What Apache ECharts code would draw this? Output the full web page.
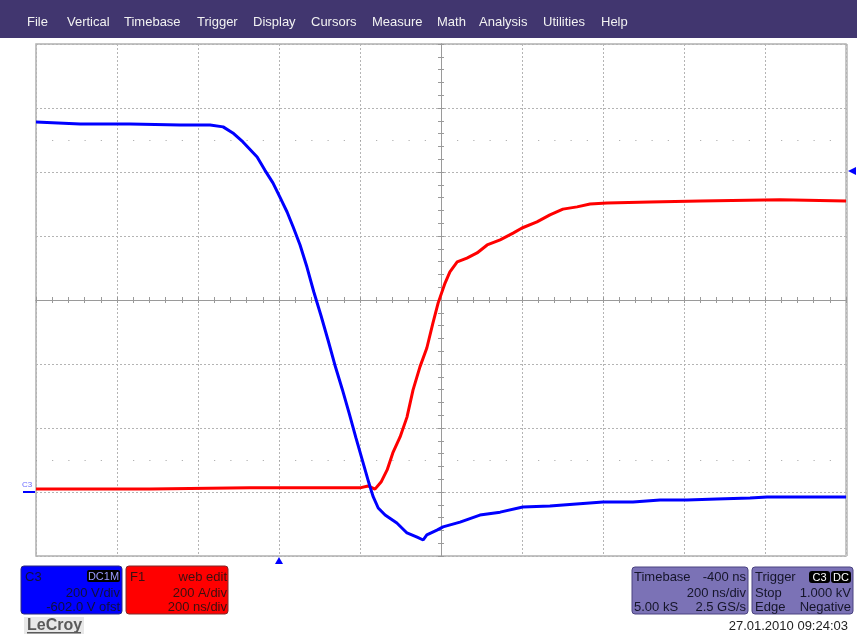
<!DOCTYPE html>
<html>
<head>
<meta charset="utf-8">
<script src="https://cdn.jsdelivr.net/npm/echarts@6/dist/echarts.min.js"></script>
<style>
  html, body { margin: 0; padding: 0; background: #fff; }
  #main { width: 857px; height: 634px; }
</style>
</head>
<body>
<div id="main"></div>
<script>
// time in ns (trigger = 0), C3 in V, F1 in A (zero at C3 ground marker)
var c3Time = [-600, -491, -368, -244, -170, -138, -114, -89, -54, -35, -15, 2, 20, 35, 52, 69, 86, 104, 121, 138, 156, 173, 190, 207, 222, 232, 245, 262, 291, 316, 341, 356, 365, 390, 405, 447, 496, 546, 602, 669, 726, 800, 874, 941, 1007, 1081, 1163, 1205, 1286, 1400];
var c3Volt = [1156, 1150, 1150, 1147, 1147, 1141, 1122, 1094, 1047, 1006, 966, 922, 875, 828, 772, 703, 625, 550, 475, 397, 322, 247, 169, 94, 28, -13, -50, -72, -97, -128, -141, -150, -134, -119, -109, -94, -72, -63, -47, -44, -38, -31, -31, -25, -25, -22, -19, -16, -16, -16];

var f1Time = [-600, -319, -72, 200, 220, 237, 252, 267, 281, 299, 316, 331, 348, 365, 380, 393, 410, 422, 440, 464, 489, 514, 546, 578, 600, 637, 669, 701, 736, 768, 810, 916, 1040, 1237, 1400];
var f1Amp = [9, 9, 13, 13, 19, 9, 31, 69, 122, 172, 234, 319, 391, 450, 528, 591, 653, 688, 719, 731, 747, 772, 788, 809, 825, 844, 866, 884, 891, 900, 903, 906, 909, 913, 909];

// helper rows of dots at +/-2.5 div (in C3 units)
var dotRows = [1100, 100];

var menuItems = ['File', 'Vertical', 'Timebase', 'Trigger', 'Display', 'Cursors', 'Measure', 'Math', 'Analysis', 'Utilities', 'Help'];
var menuX = [27, 67, 124, 197, 253, 311, 372, 437, 479, 543, 601];

var FONT = '"Liberation Sans", Arial, sans-serif';

function pairs(xs, ys) {
  var out = [];
  for (var i = 0; i < xs.length; i++) out.push([xs[i], ys[i]]);
  return out;
}

function txt(x, y, s, color, size, align) {
  return {
    type: 'text', x: x, y: y, silent: true,
    style: { text: s, fill: color, font: (size || 13) + 'px ' + FONT, align: align || 'left', verticalAlign: 'middle' }
  };
}
function box(x, y, w, h, fill, stroke, r) {
  return {
    type: 'rect', silent: true,
    shape: { x: x, y: y, width: w, height: h, r: r || 0 },
    style: { fill: fill, stroke: stroke || null, lineWidth: stroke ? 1 : 0 }
  };
}

var chart = echarts.init(document.getElementById('main'));

var gridRect = { left: 36, top: 44, width: 810, height: 512 };
var dots = { color: '#b4b4b4', width: 1, type: [2, 2] };

function centerAxes(idx, inside) {
  return {
    x: {
      type: 'value', gridIndex: idx, min: -5, max: 5, interval: 0.2,
      axisLine: { show: true, onZero: true, lineStyle: { color: '#9a9a9a', width: 1 } },
      axisTick: { show: true, inside: inside, length: 3, lineStyle: { color: '#9a9a9a' } },
      axisLabel: { show: false }, splitLine: { show: false }
    },
    y: {
      type: 'value', gridIndex: idx, min: -4, max: 4, interval: 0.2,
      axisLine: { show: true, onZero: true, lineStyle: { color: '#9a9a9a', width: 1 } },
      axisTick: { show: true, inside: inside, length: 3, lineStyle: { color: '#9a9a9a' } },
      axisLabel: { show: false }, splitLine: { show: false }
    }
  };
}
var ca1 = centerAxes(1, true);
var ca2 = centerAxes(2, false);

var graphics = [];
// menu bar
graphics.push(box(0, 0, 857, 38, '#41366f'));
menuItems.forEach(function (m, i) {
  graphics.push(txt(menuX[i], 22, m, '#f2f2f2', 13));
});

// right plot edge (thicker, lighter)
graphics.push(box(845, 44, 3, 512, '#c8c8c8'));

// C3 channel box
graphics.push(box(21, 566, 101, 48, '#0000ff', '#2a2a80', 3));
graphics.push(txt(25, 577, 'C3', '#10103a', 13));
graphics.push(box(87, 570, 33, 12, '#000000', null, 2));
graphics.push(txt(103.5, 576.5, 'DC1M', '#9a9aff', 11, 'center'));
graphics.push(txt(120, 593, '200 V/div', '#10103a', 13, 'right'));
graphics.push(txt(120, 607, '-602.0 V ofst', '#10103a', 13, 'right'));

// F1 box
graphics.push(box(126, 566, 102, 48, '#ff0000', '#802a2a', 3));
graphics.push(txt(130, 577, 'F1', '#3a1010', 13));
graphics.push(txt(227, 577, 'web edit', '#3a1010', 13, 'right'));
graphics.push(txt(227, 593, '200 A/div', '#3a1010', 13, 'right'));
graphics.push(txt(227, 607, '200 ns/div', '#3a1010', 13, 'right'));

// LeCroy logo
graphics.push(box(24, 617, 60, 17, '#e8e8e8'));
graphics.push({
  type: 'text', x: 27, y: 626, silent: true,
  style: { text: 'LeCroy', fill: '#5a5a5a', font: 'bold 16px ' + FONT, verticalAlign: 'middle' }
});
graphics.push(box(27, 632, 54, 1.5, '#5a5a5a'));

// Timebase box
graphics.push(box(632, 567, 116, 47, '#7b72b6', '#4a4280', 3));
graphics.push(txt(634, 577, 'Timebase', '#15152a', 13));
graphics.push(txt(746, 577, '-400 ns', '#15152a', 13, 'right'));
graphics.push(txt(746, 593, '200 ns/div', '#15152a', 13, 'right'));
graphics.push(txt(634, 607, '5.00 kS', '#15152a', 13));
graphics.push(txt(746, 607, '2.5 GS/s', '#15152a', 13, 'right'));

// Trigger box
graphics.push(box(752, 567, 101, 47, '#7b72b6', '#4a4280', 3));
graphics.push(txt(755, 577, 'Trigger', '#15152a', 13));
graphics.push(box(809, 571, 21, 12, '#000000', null, 3));
graphics.push(txt(819.5, 577.5, 'C3', '#ffffff', 11, 'center'));
graphics.push(box(831, 571, 20, 12, '#000000', null, 3));
graphics.push(txt(841, 577.5, 'DC', '#ffffff', 11, 'center'));
graphics.push(txt(755, 593, 'Stop', '#15152a', 13));
graphics.push(txt(851, 593, '1.000 kV', '#15152a', 13, 'right'));
graphics.push(txt(755, 607, 'Edge', '#15152a', 13));
graphics.push(txt(851, 607, 'Negative', '#15152a', 13, 'right'));

// date
graphics.push(txt(848, 626, '27.01.2010 09:24:03', '#222222', 13, 'right'));

// markers: trigger position, trigger level, C3 ground
graphics.push({ type: 'polygon', silent: true, shape: { points: [[279, 557], [275, 564], [283, 564]] }, style: { fill: '#0000ff' } });
graphics.push({ type: 'polygon', silent: true, shape: { points: [[848, 171], [856, 167], [856, 175]] }, style: { fill: '#0000ff' } });
graphics.push(txt(22, 485, 'C3', '#6a6aff', 8));
graphics.push(box(23, 491, 12, 2, '#0000ff'));

var option = {
  animation: false,
  backgroundColor: '#ffffff',
  grid: [
    Object.assign({ show: true, borderColor: '#b0b0b0', borderWidth: 1.5, backgroundColor: '#fff' }, gridRect),
    Object.assign({ show: false }, gridRect),
    Object.assign({ show: false }, gridRect)
  ],
  xAxis: [
    {
      type: 'value', gridIndex: 0, min: -600, max: 1400, interval: 200,
      axisLine: { show: false }, axisTick: { show: false }, axisLabel: { show: false },
      splitLine: { show: true, lineStyle: dots }
    },
    ca1.x, ca2.x
  ],
  yAxis: [
    {
      type: 'value', gridIndex: 0, min: -200, max: 1400, interval: 200,
      axisLine: { show: false }, axisTick: { show: false }, axisLabel: { show: false },
      splitLine: { show: true, lineStyle: dots }
    },
    ca1.y, ca2.y
  ],
  series: [
    {
      name: 'F1', type: 'line', xAxisIndex: 0, yAxisIndex: 0,
      data: pairs(f1Time, f1Amp), showSymbol: false, z: 3,
      lineStyle: { color: '#ff0000', width: 3 }, itemStyle: { color: '#ff0000' },
      markLine: {
        silent: true, symbol: 'none', label: { show: false },
        lineStyle: { color: '#a0a0a0', width: 1, type: [1, 15.2] },
        data: dotRows.map(function (v) { return { yAxis: v }; })
      }
    },
    {
      name: 'C3', type: 'line', xAxisIndex: 0, yAxisIndex: 0,
      data: pairs(c3Time, c3Volt), showSymbol: false, z: 4,
      lineStyle: { color: '#0000ff', width: 3 }, itemStyle: { color: '#0000ff' }
    }
  ],
  graphic: graphics
};

chart.setOption(option);
</script>
</body>
</html>
